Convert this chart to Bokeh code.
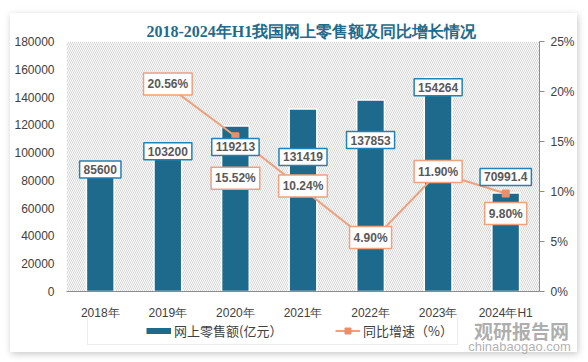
from bokeh.plotting import figure
from bokeh.layouts import column
from bokeh.models import (ColumnDataSource, Range1d, LinearAxis, SingleIntervalTicker,
                          PrintfTickFormatter, BasicTickFormatter, Legend, LegendItem,
                          BoxAnnotation, Title, FactorRange)
from bokeh.core.properties import value
from bokeh.embed import file_html
from bokeh.resources import INLINE

# ---- data ----
years = ["2018年", "2019年", "2020年", "2021年", "2022年", "2023年", "2024年H1"]
sales = [85600, 103200, 119213, 131419, 137853, 154264, 70991.4]
sales_text = ["85600", "103200", "119213", "131419", "137853", "154264", "70991.4"]
growth_years = ["2019年", "2020年", "2021年", "2022年", "2023年", "2024年H1"]
growth = [20.56, 15.52, 10.24, 4.90, 11.90, 9.80]
growth_text = ["20.56%", "15.52%", "10.24%", "4.90%", "11.90%", "9.80%"]

# label offsets (screen px, positive = down)
sales_dy = [-3, 3, 21, 48, 40, 10, -16]
growth_dy = [-2, 42, -3, -5, -1, 20]

BAR = "#1d6a8c"
LINE = "#f0a07c"
MARK = "#e8906c"
LBL_BLUE = "#2181b9"
TXT = "#404040"

src = ColumnDataSource(dict(x=years, y=sales, t=sales_text, dy=sales_dy))
src2 = ColumnDataSource(dict(x=growth_years, y=growth, t=growth_text, dy=growth_dy))

p = figure(x_range=FactorRange(factors=years), y_range=Range1d(0, 180000),
           width=567, height=339, output_backend="svg", toolbar_location=None,
           min_border_left=56, min_border_right=36, min_border_top=28, min_border_bottom=61)
p.frame_align = False
p.margin = (13, 0, 0, 10)
p.styles = {"box-shadow": "1px 2px 7px rgba(0,0,0,0.22)"}
p.background_fill_color = "white"
p.border_fill_color = "white"
p.outline_line_color = None
p.grid.visible = False

p.title = Title(text="2018-2024年H1我国网上零售额及同比增长情况", align="left",
                text_font_size="16px", text_font="Liberation Serif", text_font_style="bold",
                text_color="#1f6b8e", standoff=3, offset=80)

# hatched plot background
p.add_layout(BoxAnnotation(fill_color="white", fill_alpha=1, line_color=None,
                           hatch_pattern="\\", hatch_color="#d6d6d6", hatch_scale=4,
                           hatch_weight=1, level="underlay"))

p.extra_y_ranges = {"pct": Range1d(0, 25)}

# axes
p.yaxis.ticker = SingleIntervalTicker(interval=20000, num_minor_ticks=0)
p.yaxis.formatter = BasicTickFormatter(use_scientific=False)
p.yaxis.axis_line_color = None
p.yaxis.major_tick_line_color = None
p.yaxis.minor_tick_line_color = None
p.yaxis.major_tick_out = 0
p.yaxis.major_label_standoff = 12
p.yaxis.major_label_text_font = "Liberation Sans"
p.yaxis.major_label_text_font_size = "12px"
p.yaxis.major_label_text_color = TXT

p.xaxis.axis_line_color = "#8c8c8c"
p.xaxis.major_tick_line_color = None
p.xaxis.minor_tick_line_color = None
p.xaxis.major_tick_out = 0
p.xaxis.major_label_standoff = 14
p.xaxis.major_label_text_font = "Liberation Sans"
p.xaxis.major_label_text_font_size = "12px"
p.xaxis.major_label_text_color = TXT

right = LinearAxis(y_range_name="pct", ticker=SingleIntervalTicker(interval=5, num_minor_ticks=0),
                   formatter=PrintfTickFormatter(format="%d%%"))
right.axis_line_color = "#8c8c8c"
right.major_tick_line_color = "#8c8c8c"
right.major_tick_out = 5
right.major_tick_in = 0
right.minor_tick_line_color = None
right.major_label_standoff = 6
right.major_label_text_font = "Liberation Sans"
right.major_label_text_font_size = "12px"
right.major_label_text_color = TXT
p.add_layout(right, "right")

# bars
p.vbar(x="x", top="y", width=0.41, source=src, fill_color=BAR, line_color="white", line_width=1.5)

# line
line_r = p.line(x="x", y="y", source=src2, y_range_name="pct", line_color=LINE, line_width=2)
sq_r = p.scatter(x="x", y="y", source=src2, y_range_name="pct", marker="square", size=7,
                 fill_color=MARK, line_color=MARK)

# value labels
p.text(x="x", y="y", text="t", y_offset="dy", source=src, text_align="center",
       text_baseline="middle", text_font=value("Liberation Sans"), text_font_style="bold",
       text_font_size="12px", text_color="#595959", background_fill_color="white",
       border_line_color=LBL_BLUE, border_line_width=1.5, padding=4)
p.text(x="x", y="y", text="t", y_offset="dy", source=src2, y_range_name="pct", text_align="center",
       text_baseline="middle", text_font=value("Liberation Sans"), text_font_style="bold",
       text_font_size="12px", text_color="#595959", background_fill_color="white",
       border_line_color=LINE, border_line_width=1.5, padding=4)

# ---- transparent strip laid over the bottom of the card: legend + watermark ----
q = figure(width=567, height=40, x_range=Range1d(0, 567), y_range=Range1d(0, 40),
           output_backend="svg", toolbar_location=None,
           x_axis_location=None, y_axis_location=None,
           min_border=0, min_border_left=0, min_border_right=0, min_border_top=0, min_border_bottom=0)
q.frame_align = False
q.margin = (-34, 0, 0, 10)
q.styles = {"background-color": "transparent"}
q.grid.visible = False
q.outline_line_color = None
q.background_fill_color = None
q.border_fill_color = None

# legend proxies (kept outside the strip's visible range)
dummy = q.line(x=[-60, -50], y=[-60, -60], line_alpha=0)
leg_bar = q.line(x=[-60, -50], y=[-60, -60], line_color=BAR, line_width=6)
leg_line = q.line(x=[-60, -50], y=[-60, -60], line_color=LINE, line_width=2)
leg_sq = q.scatter(x=[-60], y=[-60], marker="square", size=7, fill_color=MARK, line_color=MARK)
legend = Legend(items=[
    LegendItem(label="\u00a0" * 4, renderers=[dummy]),
    LegendItem(label="网上零售额(亿元）" + "\u00a0" * 16, renderers=[leg_bar]),
    LegendItem(label="同比增速（%）", renderers=[leg_line, leg_sq]),
], location=(77, 13), orientation="horizontal", padding=4, spacing=6, margin=0,
    glyph_width=25, glyph_height=15, label_height=15, label_standoff=3,
    label_text_font="Noto Sans CJK SC", label_text_font_size="13px", label_text_color=TXT,
    border_line_color="#d9d9d9", border_line_width=1, background_fill_color="white",
    background_fill_alpha=1)
q.add_layout(legend)

q.arc(x=[430], y=[27], radius=13, start_angle=0.6, end_angle=3.9, line_color="#c4c4c4", line_width=4)
q.arc(x=[430], y=[27], radius=7, start_angle=3.6, end_angle=0.9, line_color="#c4c4c4", line_width=3)
q.text(x=[511], y=[28], text=["观研报告网"], text_align="center", text_baseline="middle",
       text_font=value("Noto Sans CJK SC"), text_font_size="19px", text_font_style="bold",
       text_color="#a0a0a0", text_alpha=0.85)
q.text(x=[509], y=[12], text=["chinabaogao.com"], text_align="center", text_baseline="middle",
       text_font=value("Liberation Sans"), text_font_size="13px", text_color="#a8a8a8", text_alpha=0.9)

layout = column(p, q, spacing=0)
open("out.html", "w").write(file_html(layout, INLINE))
